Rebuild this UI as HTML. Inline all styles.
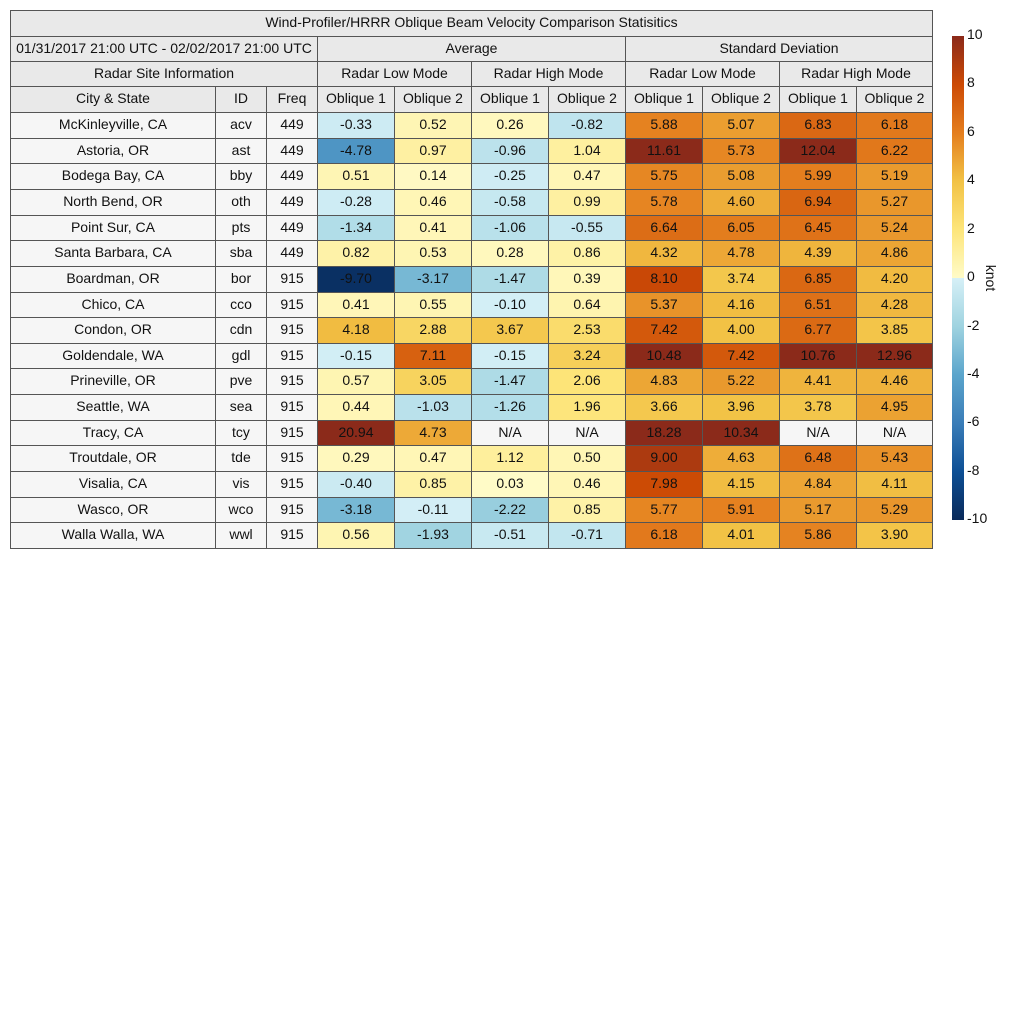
<!DOCTYPE html>
<html><head><meta charset="utf-8"><style>
body{margin:0;width:1024px;height:1024px;background:#fff;position:relative;font-family:"Liberation Sans",sans-serif;font-size:14px;color:#111;overflow:hidden}
.c{position:absolute;box-sizing:border-box;border:1px solid #555;display:flex;align-items:center;justify-content:center;white-space:nowrap;padding-bottom:3px}
.h{background:#e9e9e9}
.l{background:#f6f6f6}
.t{position:absolute;font-size:14px}
</style></head><body>
<div id="root"></div>
<div style="position:absolute;left:952px;top:36px;width:12px;height:484px;background:linear-gradient(to bottom,#8b2a1a 0%,#cc4a05 10%,#e47e1e 20%,#f2c245 30%,#fde57a 40%,#fffbc8 50%,#d6f0f7 50%,#9fd3e0 60%,#5ba5cc 70%,#3a7db8 80%,#0d4f95 90%,#0a2a5a 100%)"></div>
<script>
const R=document.getElementById('root');
function cell(x1,y1,x2,y2,txt,cls,bg,st){const d=document.createElement('div');d.className='c '+(cls||'');d.style.left=x1+'px';d.style.top=y1+'px';d.style.width=(x2-x1+1)+'px';d.style.height=(y2-y1+1)+'px';if(bg)d.style.background=bg;if(st)d.style.cssText+=st;d.textContent=txt;R.appendChild(d);}
const X=[10,215,266,317,394,471,548,625,702,779,856,932];
cell(10,10,932,36,'Wind-Profiler/HRRR Oblique Beam Velocity Comparison Statisitics','h');
cell(10,36,317,61,'01/31/2017 21:00 UTC - 02/02/2017 21:00 UTC','h');
cell(317,36,625,61,'Average','h');cell(625,36,932,61,'Standard Deviation','h');
cell(10,61,317,86,'Radar Site Information','h');
['Radar Low Mode','Radar High Mode','Radar Low Mode','Radar High Mode'].forEach((t,i)=>cell(X[3+2*i],61,X[5+2*i],86,t,'h'));
['City & State','ID','Freq','Oblique 1','Oblique 2','Oblique 1','Oblique 2','Oblique 1','Oblique 2','Oblique 1','Oblique 2'].forEach((t,i)=>cell(X[i],86,X[i+1],112,t,'h'));
const D=[
['McKinleyville, CA','acv','449',-0.33,0.52,0.26,-0.82,5.88,5.07,6.83,6.18],
['Astoria, OR','ast','449',-4.78,0.97,-0.96,1.04,11.61,5.73,12.04,6.22],
['Bodega Bay, CA','bby','449',0.51,0.14,-0.25,0.47,5.75,5.08,5.99,5.19],
['North Bend, OR','oth','449',-0.28,0.46,-0.58,0.99,5.78,4.60,6.94,5.27],
['Point Sur, CA','pts','449',-1.34,0.41,-1.06,-0.55,6.64,6.05,6.45,5.24],
['Santa Barbara, CA','sba','449',0.82,0.53,0.28,0.86,4.32,4.78,4.39,4.86],
['Boardman, OR','bor','915',-9.70,-3.17,-1.47,0.39,8.10,3.74,6.85,4.20],
['Chico, CA','cco','915',0.41,0.55,-0.10,0.64,5.37,4.16,6.51,4.28],
['Condon, OR','cdn','915',4.18,2.88,3.67,2.53,7.42,4.00,6.77,3.85],
['Goldendale, WA','gdl','915',-0.15,7.11,-0.15,3.24,10.48,7.42,10.76,12.96],
['Prineville, OR','pve','915',0.57,3.05,-1.47,2.06,4.83,5.22,4.41,4.46],
['Seattle, WA','sea','915',0.44,-1.03,-1.26,1.96,3.66,3.96,3.78,4.95],
['Tracy, CA','tcy','915',20.94,4.73,null,null,18.28,10.34,null,null],
['Troutdale, OR','tde','915',0.29,0.47,1.12,0.50,9.00,4.63,6.48,5.43],
['Visalia, CA','vis','915',-0.40,0.85,0.03,0.46,7.98,4.15,4.84,4.11],
['Wasco, OR','wco','915',-3.18,-0.11,-2.22,0.85,5.77,5.91,5.17,5.29],
['Walla Walla, WA','wwl','915',0.56,-1.93,-0.51,-0.71,6.18,4.01,5.86,3.90]];
const S=[[-10,[10,42,90]],[-8,[13,79,149]],[-6,[58,125,184]],[-4,[91,165,204]],[-2,[159,211,224]],[0,[214,240,247]]];
const P=[[0,[255,251,200]],[2,[253,229,122]],[4,[242,194,69]],[6,[228,126,30]],[8,[204,74,5]],[10,[139,42,26]]];
function col(v){v=Math.max(-10,Math.min(10,v));const A=v<0?S:P;for(let i=0;i<A.length-1;i++){if(v>=A[i][0]&&v<=A[i+1][0]){const f=(v-A[i][0])/(A[i+1][0]-A[i][0]);const c=A[i][1].map((a,k)=>Math.round(a+(A[i+1][1][k]-a)*f));return 'rgb('+c+')';}}return '#fff';}
const h=(548-112)/17;
D.forEach((r,j)=>{const y1=Math.round(112+j*h),y2=Math.round(112+(j+1)*h);
for(let i=0;i<3;i++)cell(X[i],y1,X[i+1],y2,r[i],'l');
for(let i=3;i<11;i++){const v=r[i];cell(X[i],y1,X[i+1],y2,v===null?'N/A':v.toFixed(2),'',v===null?'#f6f6f6':col(v));}});
[[10,36],[8,84],[6,133],[4,181],[2,230],[0,278],[-2,327],[-4,375],[-6,423],[-8,472],[-10,520]].forEach(([v,y])=>{const d=document.createElement('div');d.className='t';d.style.left='967px';d.style.top=(y-10)+'px';d.textContent=v;R.appendChild(d);});
const k=document.createElement('div');k.className='t';k.style.cssText+='left:978px;top:270px;transform:rotate(90deg);';k.textContent='knot';R.appendChild(k);
</script>
</body></html>
